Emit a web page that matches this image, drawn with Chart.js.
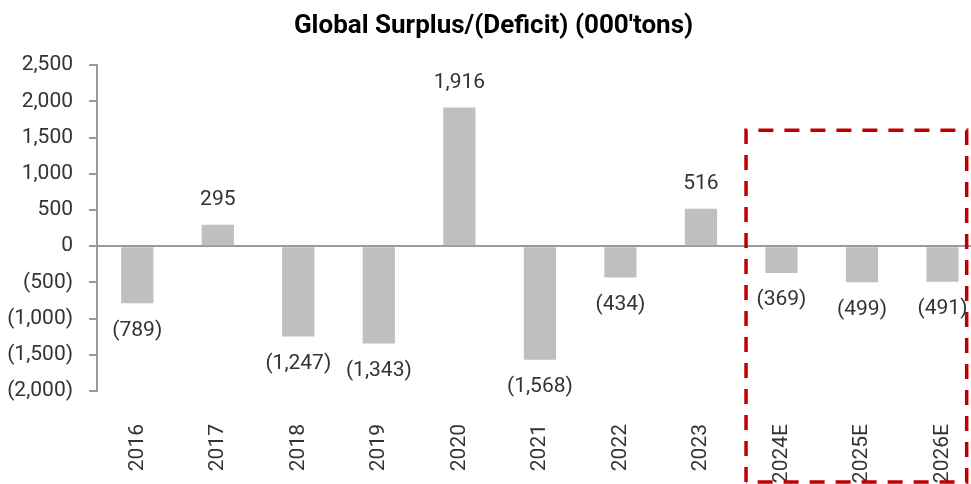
<!DOCTYPE html>
<html>
<head>
<meta charset="utf-8">
<script src="https://cdn.jsdelivr.net/npm/chart.js@4.4.1/dist/chart.umd.min.js"></script>
<style>
  html, body { margin: 0; padding: 0; background: #fff; overflow: hidden; }
  #wrap { width: 993px; height: 484px; position: relative; }
</style>
</head>
<body>
<div id="wrap"><canvas id="c" width="993" height="484"></canvas></div>
<script>
const categories = ['2016','2017','2018','2019','2020','2021','2022','2023','2024E','2025E','2026E'];
const surplus = [-789, 295, -1247, -1343, 1916, -1568, -434, 516, -369, -499, -491];
const yTicks = { min: -2000, max: 2500, step: 500 };
const titleText = "Global Surplus/(Deficit) (000'tons)";
const highlightFrom = 7.56;   // category index units (centres at integers)
const highlightTo = 10.3;
const highlightTopValue = 1600;

function fmt(v) {
  const s = Math.abs(v).toLocaleString('en-US');
  return v < 0 ? '(' + s + ')' : s;
}

const FONT = 'Roboto, "Liberation Sans", sans-serif';
const TEXT = '#333333';
const AXIS = '#9a9a9a';

const labelPlugin = {
  id: 'valueLabels',
  afterDatasetsDraw(chart) {
    const ctx = chart.ctx;
    const meta = chart.getDatasetMeta(0);
    ctx.save();
    ctx.font = '21px ' + FONT;
    ctx.fillStyle = TEXT;
    ctx.textAlign = 'center';
    ctx.textBaseline = 'middle';
    meta.data.forEach((bar, i) => {
      const v = surplus[i];
      const y = v >= 0 ? bar.y - 25 : bar.y + 27;
      ctx.fillText(fmt(v), bar.x, y);
    });
    ctx.restore();
  }
};

const boxPlugin = {
  id: 'forecastBox',
  afterDraw(chart) {
    const ctx = chart.ctx;
    const xs = chart.scales.x, ys = chart.scales.y;
    const w = xs.width / categories.length;
    const left = xs.left + (highlightFrom + 0.5) * w;
    const right = xs.left + (highlightTo + 0.5) * w;
    const top = ys.getPixelForValue(highlightTopValue);
    const bottom = chart.height - 2;
    ctx.save();
    ctx.strokeStyle = '#c00000';
    ctx.lineWidth = 3.5;
    ctx.setLineDash([15, 11]);
    ctx.beginPath();
    ctx.moveTo(left, bottom);
    ctx.lineTo(left, top);
    ctx.lineTo(right, top);
    ctx.lineTo(right, bottom);
    ctx.lineTo(left, bottom);
    ctx.stroke();
    ctx.restore();
  }
};

new Chart(document.getElementById('c'), {
  type: 'bar',
  data: {
    labels: categories,
    datasets: [{
      data: surplus,
      backgroundColor: '#bfbfbf',
      borderWidth: 0,
      barPercentage: 0.4,
      categoryPercentage: 1.0
    }]
  },
  options: {
    responsive: false,
    animation: false,
    devicePixelRatio: 1,
    layout: { padding: { left: 0, right: 6, top: 0, bottom: 0 } },
    plugins: {
      legend: { display: false },
      tooltip: { enabled: false },
      title: {
        display: true,
        text: titleText,
        color: '#000',
        font: { family: FONT, size: 26, weight: 'bold' },
        padding: { top: 11, bottom: 23 }
      }
    },
    scales: {
      x: {
        grid: { display: false },
        border: { display: false },
        ticks: {
          color: TEXT,
          font: { family: FONT, size: 21 },
          minRotation: 90,
          maxRotation: 90,
          padding: 25,
          autoSkip: false
        },
        afterFit(scale) { scale.height = 93; }
      },
      y: {
        min: yTicks.min,
        max: yTicks.max,
        ticks: {
          stepSize: yTicks.step,
          color: TEXT,
          font: { family: FONT, size: 21 },
          padding: 16,
          callback: v => fmt(v)
        },
        grid: {
          drawOnChartArea: true,
          color: c => (c.tick && c.tick.value === 0) ? AXIS : 'rgba(0,0,0,0)',
          lineWidth: 2,
          tickColor: AXIS,
          tickLength: 8,
          tickWidth: 2
        },
        border: { display: true, color: AXIS, width: 2 },
        afterFit(scale) { scale.width = 97; }
      }
    }
  },
  plugins: [labelPlugin, boxPlugin]
});
</script>
</body>
</html>
